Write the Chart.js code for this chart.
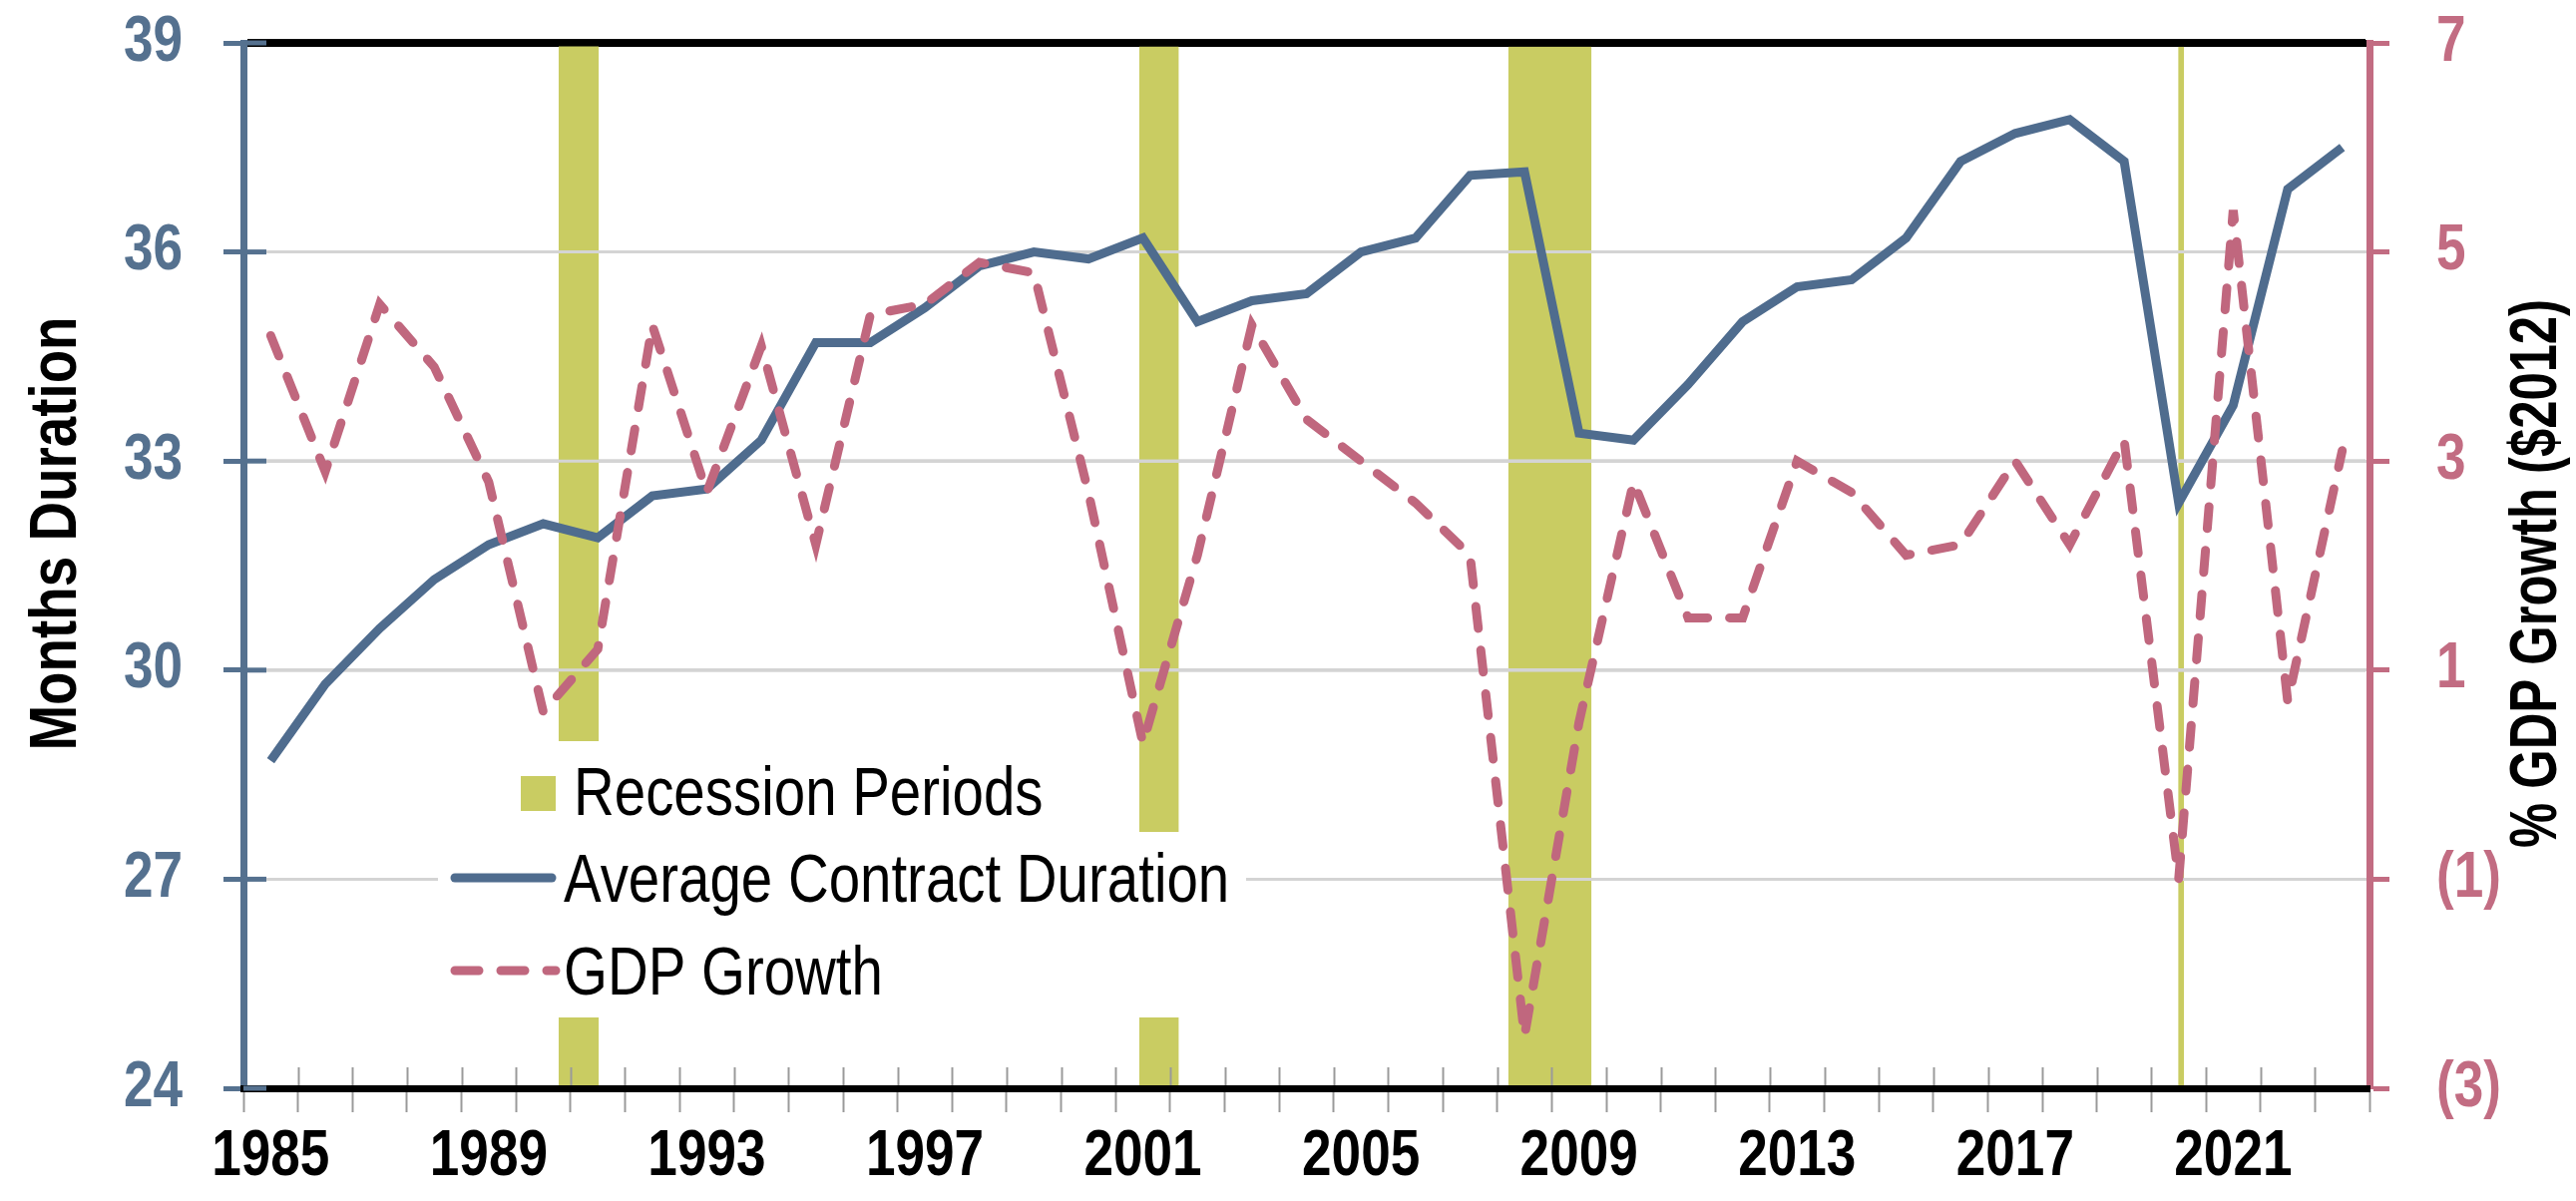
<!DOCTYPE html>
<html>
<head>
<meta charset="utf-8">
<script src="https://cdn.jsdelivr.net/npm/chart.js"></script>
<style>
    html, body { margin: 0; padding: 0; background: #fff; }
    #contenedor { width: 2582px; height: 1204px; position: relative; }
</style>
</head>
<body>
<div id="contenedor"><canvas id="grafico"></canvas></div>
<script>
// Datos del gráfico
const anios = ['1985', '1986', '1987', '1988', '1989', '1990', '1991', '1992', '1993', '1994',
    '1995', '1996', '1997', '1998', '1999', '2000', '2001', '2002', '2003', '2004',
    '2005', '2006', '2007', '2008', '2009', '2010', '2011', '2012', '2013', '2014',
    '2015', '2016', '2017', '2018', '2019', '2020', '2021', '2022', '2023'];

const duracion = [28.7, 29.8, 30.6, 31.3, 31.8, 32.1, 31.9, 32.5, 32.6, 33.3,
    34.7, 34.7, 35.2, 35.8, 36.0, 35.9, 36.2, 35.0, 35.3, 35.4,
    36.0, 36.2, 37.1, 37.15, 33.4, 33.3, 34.1, 35.0, 35.5, 35.6,
    36.2, 37.3, 37.7, 37.9, 37.3, 32.4, 33.8, 36.9, 37.5];

const crecimientoPib = [4.2, 2.9, 4.5, 3.9, 2.8, 0.6, 1.2, 4.3, 2.7, 4.1,
    2.2, 4.4, 4.5, 4.9, 4.8, 2.7, 0.3, 2.1, 4.3, 3.4,
    3.0, 2.6, 2.1, -2.5, 0.5, 2.8, 1.5, 1.5, 3.0, 2.7,
    2.1, 2.2, 3.0, 2.2, 3.2, -1.0, 5.4, 0.7, 3.1];

// Periodos de recesión (en años, el centro de cada categoría es el año)
const recesionInicio = [1990.28, 2000.93, 2007.70, 2019.99];
const recesionFin = [1991.02, 2001.66, 2009.23, 2020.10];

// Marcas de los ejes
const ticksIzq = [24, 27, 30, 33, 36, 39];
const ticksDer = [-3, -1, 1, 3, 5, 7];
const etiquetasDer = ['(3)', '(1)', '1', '3', '5', '7'];
const etiquetasX = ['1985', '1989', '1993', '1997', '2001', '2005', '2009', '2013', '2017', '2021'];

// Estilos
const AZUL = '#4F6C8E';
const AZUL_EJE = '#55718F';
const ROSA = '#C0677E';
const ROSA_EJE = '#C26C82';
const VERDE = '#C9CC62';
const GRIS = '#D4D4D4';
const FUENTE = "'Liberation Sans Narrow', 'Liberation Sans', Arial, sans-serif";
const ESTRECHO = 0.83; // el texto del original es condensado

// Bandas de recesión sobre un eje x lineal oculto
const bandas = recesionInicio.map((ini, i) => ({
    label: 'Recession Periods',
    type: 'line',
    xAxisID: 'xr',
    yAxisID: 'y',
    data: [{ x: ini, y: 39 }, { x: recesionFin[i], y: 39 }],
    backgroundColor: VERDE,
    borderColor: 'rgba(0,0,0,0)',
    borderWidth: 0,
    pointRadius: 0,
    fill: 'start',
    order: 10
}));

const datos = {
    labels: anios,
    datasets: [{
        label: 'Average Contract Duration',
        data: duracion,
        xAxisID: 'x',
        yAxisID: 'y',
        borderColor: AZUL,
        borderWidth: 9,
        pointRadius: 0,
        tension: 0,
        fill: false,
        order: 2
    }, {
        label: 'GDP Growth',
        data: crecimientoPib,
        xAxisID: 'x',
        yAxisID: 'y2',
        borderColor: ROSA,
        borderWidth: 9,
        borderDash: [22, 22],
        borderCapStyle: 'round',
        pointRadius: 0,
        tension: 0,
        fill: false,
        order: 1
    }, ...bandas]
};

// Leyenda dibujada dentro del área, con fondo blanco
const leyenda = {
    fuente: "68px " + FUENTE,
    filas: [
        { texto: 'Recession Periods', x: 575, base: 817 },
        { texto: 'Average Contract Duration', x: 565, base: 904 },
        { texto: 'GDP Growth', x: 565, base: 997 }
    ]
};

// Títulos de los ejes (ambos se leen de abajo hacia arriba)
const titulos = [
    { texto: 'Months Duration', x: 58, y: 535, ancho: 454 },
    { texto: '% GDP Growth ($2012)', x: 2544, y: 575, ancho: 550 }
];

// Texto condensado: se usa el maxWidth de fillText
const condensar = {
    id: 'condensar',
    beforeInit(chart) {
        const c = chart.ctx;
        const original = c.fillText.bind(c);
        c.fillText = function (texto, x, y, maxAncho) {
            const ancho = c.measureText(texto).width * ESTRECHO;
            const limite = maxAncho === undefined ? ancho : Math.min(maxAncho, ancho);
            return original(texto, x, y, limite);
        };
    }
};

// Los ejes verticales no deben empujar el área del gráfico
const sinRelleno = s => { s.paddingTop = 0; s.paddingBottom = 0; };

const adornos = {
    id: 'adornos',
    afterDatasetDraw(chart, args) {
        // Las líneas de la rejilla se ven por encima de las bandas
        if (args.meta.xAxisID !== 'xr') return;
        const { ctx, chartArea: a, scales } = chart;
        ctx.save();
        ticksIzq.forEach(v => {
            if (v === 24) return;
            const y = scales.y.getPixelForValue(v);
            ctx.strokeStyle = v === 39 ? '#000' : GRIS;
            ctx.lineWidth = v === 39 ? 7 : 3;
            ctx.beginPath();
            ctx.moveTo(a.left + 4, y);
            ctx.lineTo(a.right - 4, y);
            ctx.stroke();
        });
        ctx.restore();
    },
    afterDatasetsDraw(chart) {
        const ctx = chart.ctx;
        ctx.save();
        // Fondo blanco de la leyenda
        ctx.fillStyle = '#fff';
        ctx.fillRect(510, 743, 590, 91);
        ctx.fillRect(439, 834, 810, 186);
        // Cuadro verde
        ctx.fillStyle = VERDE;
        ctx.fillRect(522, 778, 35, 35);
        // Línea azul
        ctx.strokeStyle = AZUL;
        ctx.lineWidth = 9;
        ctx.lineCap = 'round';
        ctx.beginPath();
        ctx.moveTo(456, 880);
        ctx.lineTo(553, 880);
        ctx.stroke();
        // Línea rosa discontinua
        ctx.strokeStyle = ROSA;
        ctx.setLineDash([24, 22]);
        ctx.beginPath();
        ctx.moveTo(456, 973);
        ctx.lineTo(557, 973);
        ctx.stroke();
        ctx.setLineDash([]);
        // Textos
        ctx.fillStyle = '#000';
        ctx.font = leyenda.fuente;
        ctx.textAlign = 'left';
        ctx.textBaseline = 'alphabetic';
        leyenda.filas.forEach(f => ctx.fillText(f.texto, f.x, f.base));
        ctx.restore();
    },
    afterDraw(chart) {
        const { ctx, chartArea: a, scales } = chart;
        ctx.save();
        // Parte interior de las marcas del eje izquierdo
        ctx.strokeStyle = AZUL_EJE;
        ctx.lineWidth = 5;
        ticksIzq.forEach(v => {
            const y = scales.y.getPixelForValue(v);
            ctx.beginPath();
            ctx.moveTo(a.left, y);
            ctx.lineTo(a.left + 23, y);
            ctx.stroke();
        });
        // Parte interior de las marcas del eje x
        ctx.strokeStyle = '#9A9A9A';
        ctx.lineWidth = 2;
        for (let k = 1; k < anios.length; k++) {
            const x = Math.round(scales.x.getPixelForValue(k - 0.5)) + 0.5;
            ctx.beginPath();
            ctx.moveTo(x, a.bottom - 21);
            ctx.lineTo(x, a.bottom - 3);
            ctx.stroke();
        }
        ctx.restore();
        // Títulos de los ejes
        titulos.forEach(t => {
            ctx.save();
            ctx.translate(t.x, t.y);
            ctx.rotate(-Math.PI / 2);
            ctx.fillStyle = '#000';
            ctx.font = "bold 66px " + FUENTE;
            ctx.textAlign = 'center';
            ctx.textBaseline = 'middle';
            ctx.fillText(t.texto, 0, 0, t.ancho);
            ctx.restore();
        });
    }
};

const opciones = {
    responsive: true,
    maintainAspectRatio: false,
    animation: false,
    layout: { padding: { top: 43, left: 0, right: 0, bottom: 0 } },
    plugins: {
        legend: { display: false },
        tooltip: { enabled: false }
    },
    scales: {
        x: {
            type: 'category',
            position: 'bottom',
            offset: true,
            grid: {
                display: true,
                offset: true,
                drawOnChartArea: false,
                drawTicks: true,
                tickLength: 24,
                tickColor: '#9A9A9A',
                tickWidth: 2
            },
            border: { display: true, color: '#000', width: 7, z: 1 },
            ticks: {
                autoSkip: false,
                maxRotation: 0,
                minRotation: 0,
                padding: 7,
                color: '#000',
                font: { family: FUENTE, size: 64, weight: 'bold' },
                callback: (v, i) => etiquetasX.includes(anios[i]) ? anios[i] : ''
            },
            afterFit: s => { s.height = 113; }
        },
        xr: { type: 'linear', display: false, min: 1984.5, max: 2023.5 },
        y: {
            position: 'left',
            min: 24,
            max: 39,
            afterBuildTicks: s => { s.ticks = ticksIzq.map(v => ({ value: v })); },
            grid: {
                color: c => (c.tick && c.tick.value === 39) ? '#000' : GRIS,
                lineWidth: c => (c.tick && c.tick.value === 39) ? 7 : 3,
                drawTicks: true,
                tickLength: 20,
                tickColor: AZUL_EJE,
                tickWidth: 5
            },
            border: { display: true, color: AZUL_EJE, width: 7 },
            ticks: {
                color: AZUL_EJE,
                padding: 41,
                font: { family: FUENTE, size: 64, weight: 'bold' }
            },
            afterFit: s => { s.width = 244; sinRelleno(s); }
        },
        y2: {
            position: 'right',
            min: -3,
            max: 7,
            afterBuildTicks: s => { s.ticks = ticksDer.map(v => ({ value: v })); },
            grid: {
                drawOnChartArea: false,
                drawTicks: true,
                tickLength: 20,
                tickColor: ROSA_EJE,
                tickWidth: 5
            },
            border: { display: true, color: ROSA_EJE, width: 7 },
            ticks: {
                color: ROSA_EJE,
                padding: 47,
                font: { family: FUENTE, size: 64, weight: 'bold' },
                callback: v => etiquetasDer[ticksDer.indexOf(v)]
            },
            afterFit: s => { s.width = 207; sinRelleno(s); }
        }
    }
};

const ctx = document.getElementById('grafico').getContext('2d');
const miGrafico = new Chart(ctx, { type: 'line', data: datos, options: opciones, plugins: [condensar, adornos] });
</script>
</body>
</html>
